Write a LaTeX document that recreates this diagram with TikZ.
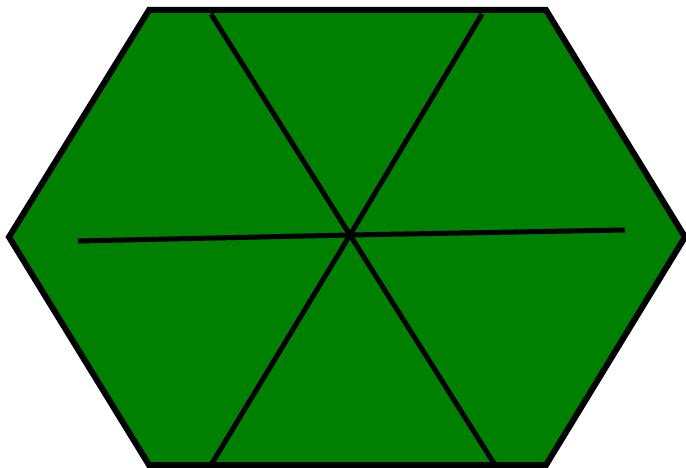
\documentclass[tikz,border=0pt]{standalone}
\definecolor{hexgreen}{RGB}{0,128,0}
\begin{document}
\begin{tikzpicture}[x=1pt,y=-1pt,
  hexstyle/.style={fill=hexgreen,draw=black,line width=6pt,line join=miter},
  spoke/.style={draw=black,line width=5pt}]
\useasboundingbox (0,0) rectangle (686,468);
\coordinate (h1) at (149,10);
\coordinate (h2) at (546,10);
\coordinate (h3) at (685,237);
\coordinate (h4) at (546,465);
\coordinate (h5) at (149,465);
\coordinate (h6) at (9,237);
\coordinate (c) at (350,235);
\coordinate (a1) at (211,14);
\coordinate (a2) at (495,465);
\coordinate (b1) at (482,14);
\coordinate (b2) at (211,465);
\coordinate (d1) at (78,241);
\coordinate (d2) at (625,230);
\path[hexstyle] (h1) -- (h2) -- (h3) -- (h4) -- (h5) -- (h6) -- cycle;
\draw[spoke] (a1) -- (c) -- (a2);
\draw[spoke] (b1) -- (c) -- (b2);
\draw[spoke] (d1) -- (c) -- (d2);
\end{tikzpicture}
\end{document}
